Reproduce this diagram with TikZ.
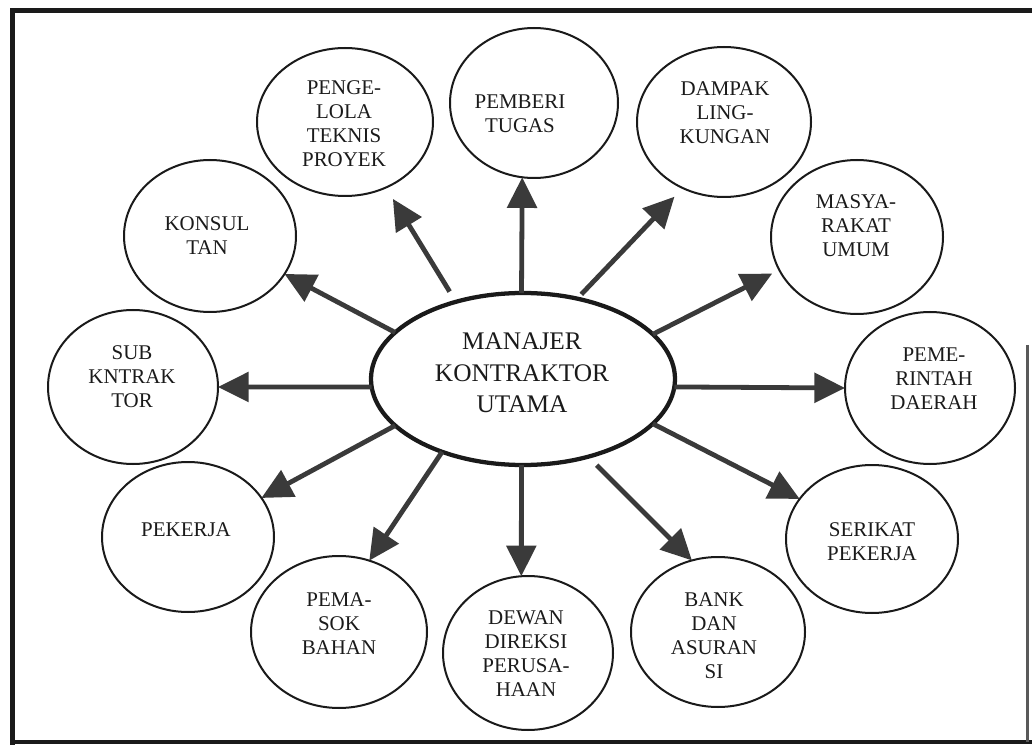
\documentclass[tikz,border=0pt]{standalone}
\usepackage{fontspec}
\setmainfont{Liberation Serif}
\usetikzlibrary{arrows.meta,shapes.geometric}
\definecolor{ink}{HTML}{1A1A1A}
\definecolor{arrowgray}{HTML}{3A3A3A}
\begin{document}
\begin{tikzpicture}[x=0.75pt,y=-0.75pt,
  bub/.style={ellipse,draw=ink,line width=1.5pt,inner sep=0pt,outer sep=0pt},
  hub/.style={ellipse,draw=ink,line width=3.2pt,inner sep=0pt,outer sep=0pt,minimum width=228pt,minimum height=129pt},
  lbl/.style={align=center,text=ink,inner sep=0pt,font=\fontsize{15.7}{18}\selectfont},
  hubl/.style={align=center,text=ink,inner sep=0pt,font=\fontsize{19}{23.5}\selectfont},
  arr/.style={draw=arrowgray,line width=3.6pt,-{Triangle[length=23pt,width=22pt]}}
]
\useasboundingbox (0,0) rectangle (1032,745);

% frame
\draw[ink,line width=3.75pt] (10,11) -- (1032,11);
\draw[ink,line width=3.5pt] (12.5,9) -- (12.5,745);
\draw[ink,line width=3pt] (11,742) -- (1032,742);
\draw[gray!70!black,line width=2pt] (1027.5,345) -- (1027.5,742);

% centre
\node[hub] (hub) at (523,379) {};
\node[hubl] (hub-t) at (522,373) {MANAJER\\KONTRAKTOR\\UTAMA};

% outer ellipses
\node[bub,minimum width=132pt,minimum height=111pt] (penge) at (345,122) {};
\node[lbl] (penge-t) at (344,124) {PENGE-\\LOLA\\TEKNIS\\PROYEK};

\node[bub,minimum width=126pt,minimum height=112.5pt] (pemberi) at (534,103) {};
\node[lbl] (pemberi-t) at (520,114) {PEMBERI\\TUGAS};

\node[bub,minimum width=130.5pt,minimum height=112.5pt] (dampak) at (724,122) {};
\node[lbl] (dampak-t) at (725,113) {DAMPAK\\LING-\\KUNGAN};

\node[bub,minimum width=129pt,minimum height=114pt] (konsul) at (210,236) {};
\node[lbl] (konsul-t) at (207,236) {KONSUL\\TAN};

\node[bub,minimum width=129pt,minimum height=115.5pt] (masya) at (857,237) {};
\node[lbl] (masya-t) at (856,226) {MASYA-\\RAKAT\\UMUM};

\node[bub,minimum width=127.5pt,minimum height=115.5pt] (sub) at (133,387) {};
\node[lbl] (sub-t) at (132,377) {SUB\\KNTRAK\\TOR};

\node[bub,minimum width=127.5pt,minimum height=114pt] (peme) at (930,388) {};
\node[lbl] (peme-t) at (934,379) {PEME-\\RINTAH\\DAERAH};

\node[bub,minimum width=129pt,minimum height=112.5pt] (pekerja) at (188,537) {};
\node[lbl] (pekerja-t) at (186,530) {PEKERJA};

\node[bub,minimum width=129pt,minimum height=111pt] (serikat) at (872,539) {};
\node[lbl] (serikat-t) at (872,542) {SERIKAT\\PEKERJA};

\node[bub,minimum width=132pt,minimum height=114pt] (pemasok) at (339,632) {};
\node[lbl] (pemasok-t) at (339,624) {PEMA-\\SOK\\BAHAN};

\node[bub,minimum width=127.5pt,minimum height=115.5pt] (dewan) at (528,653) {};
\node[lbl] (dewan-t) at (526,654) {DEWAN\\DIREKSI\\PERUSA-\\HAAN};

\node[bub,minimum width=130.5pt,minimum height=112.5pt] (bank) at (718,632) {};
\node[lbl] (bank-t) at (714,636) {BANK\\DAN\\ASURAN\\SI};

% arrows
\draw[arr,shorten <=9pt,shorten >=10pt] (hub.131.5) -- (penge.-58);
\draw[arr] (hub.160.5) -- (konsul.-27.9);
\draw[arr] (hub.91.3) -- (pemberi.-99.6);
\draw[arr,shorten <=4.5pt,shorten >=9pt] (hub.56.9) -- (dampak.-122.5);
\draw[arr,shorten >=6pt] (hub.19.7) -- (masya.-157);
\draw[arr] (hub.-3.4) -- (peme.180);
\draw[arr] (hub.-19.5) -- (serikat.151.1);
\draw[arr,shorten <=9pt] (hub.-50) -- (bank.110.7);
\draw[arr] (hub.-91.3) -- (dewan.95.1);
\draw[arr] (hub.-138.6) -- (pemasok.67.2);
\draw[arr] (hub.-160.5) -- (pekerja.28.9);
\draw[arr] (hub.183.4) -- (sub.-0.7);
\end{tikzpicture}
\end{document}
